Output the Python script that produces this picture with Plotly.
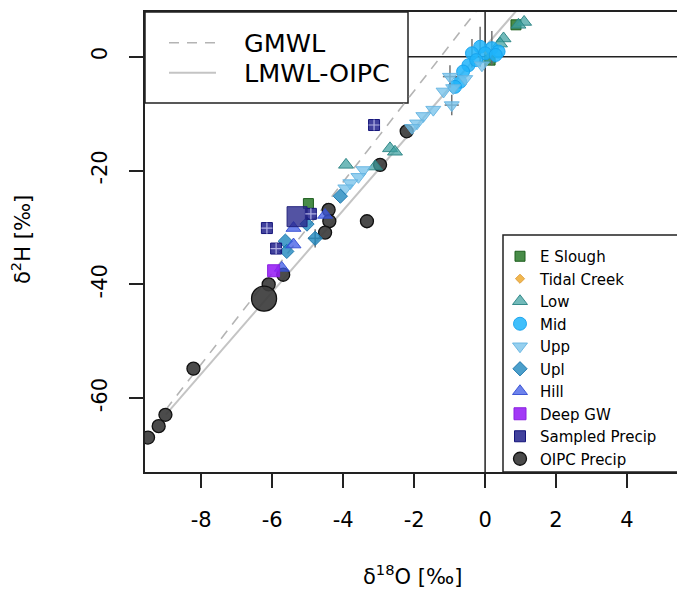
import plotly.graph_objects as go

# ---------------- data ----------------
# meteoric water lines: slope, intercept, x extent
gmwl_slope, gmwl_int = 8.0, 10.0
lmwl_slope, lmwl_int = 7.18, 1.74
line_x = [-9.0, 1.6]

oipc_x = [-9.50, -9.20, -9.01, -8.22, -6.10, -5.69, -4.41, -4.39, -4.51, -3.33, -2.96, -2.21]
oipc_y = [-66.9, -64.9, -62.9, -54.8, -40.0, -38.3, -26.9, -28.9, -30.9, -28.9, -19.0, -13.1]
oipc_mean_x = [-6.23]
oipc_mean_y = [-42.5]

eslough_x = [-4.98, 0.87, 0.14]
eslough_y = [-25.8, 5.6, -0.6]

tidal_x = [0.08]
tidal_y = [0.8]

low_x = [1.10, 0.94, 0.52, 0.42, -3.92, -2.68, -2.54, -3.10, 0.10]
low_y = [6.1, 5.6, 3.2, 2.3, -19.0, -16.1, -16.7, -19.3, -0.4]

mid_x = [-0.14, 0.19, 0.38, -0.37, 0.00, -0.47, -0.62, -0.70, -0.85, 0.30, -0.25]
mid_y = [1.75, 1.5, 0.9, 0.6, 0.6, -1.5, -2.6, -4.4, -5.3, 0.3, -0.6]
mid_ex = [0, 0, 0, 0, 0, 0, 0, 0, 0, 0, 0]
mid_ey = [3.5, 3.0, 0, 2.5, 0, 0, 0, 0, 0, 0, 0]

upp_x = [-0.09, -0.99, -0.56, -1.17, -0.94, -1.46, -1.74, -1.92, -2.06, -0.90,
         -3.43, -3.57, -3.80, -3.94]
upp_y = [-1.5, -3.5, -3.9, -6.1, -8.5, -9.3, -10.4, -11.7, -12.5, -5.5,
         -19.9, -21.1, -22.2, -23.1]
upp_ex = [0, 0.2, 0, 0, 0.2, 0, 0, 0, 0, 0, 0, 0, 0, 0]
upp_ey = [0, 2.0, 0, 0, 1.8, 0, 0, 0, 0, 0, 0, 0, 0, 0]

upl_x = [-4.08, -4.79, -5.63, -5.59, -5.02]
upl_y = [-24.5, -31.9, -32.4, -34.2, -29.4]
upl_ex = [0, 0.2, 0, 0, 0]
upl_ey = [0, 1.6, 0, 0, 0]

hill_x = [-4.51, -5.40, -5.40, -5.73]
hill_y = [-27.8, -30.1, -33.0, -37.1]

deepgw_x = [-5.96]
deepgw_y = [-37.6]

sampled_x = [-4.91, -6.15, -5.89, -3.13]
sampled_y = [-27.6, -30.1, -33.7, -12.0]
sampled_mean_x = [-5.30]
sampled_mean_y = [-28.1]

x_ticks = [-8, -6, -4, -2, 0, 2, 4]
y_ticks = [0, -20, -40, -60]
line_names = ["GMWL", "LMWL-OIPC"]

# ---------------- figure ----------------
FONT = "DejaVu Sans"
GMWL_STYLE = dict(color="#b4b4b4", width=1.6, dash="10px,8px")
LMWL_STYLE = dict(color="#c4c4c4", width=2.0)

fig = go.Figure()

gmwl_y = [gmwl_slope * v + gmwl_int for v in line_x]
lmwl_y = [lmwl_slope * v + lmwl_int for v in line_x]
fig.add_trace(go.Scatter(x=line_x, y=gmwl_y, mode="lines", name=line_names[0],
                         line=GMWL_STYLE, showlegend=False))
fig.add_trace(go.Scatter(x=line_x, y=lmwl_y, mode="lines", name=line_names[1],
                         line=LMWL_STYLE, showlegend=False))

ERR = dict(color="rgba(100,100,100,0.9)", thickness=1.5, width=0)


def pts(x, y, name, symbol, size, fill, edge, rank, show=True, ex=None, ey=None, lw=1):
    kw = {}
    if ex is not None:
        kw["error_x"] = dict(type="data", array=ex, visible=True, **ERR)
    if ey is not None:
        kw["error_y"] = dict(type="data", array=ey, visible=True, **ERR)
    fig.add_trace(go.Scatter(x=x, y=y, mode="markers", name=name, showlegend=show,
                             marker=dict(symbol=symbol, size=size, color=fill,
                                         line=dict(color=edge, width=lw)),
                             legend="legend2", legendrank=rank, **kw))


pts(oipc_x, oipc_y, "OIPC Precip", "circle", 13, "rgba(60,60,60,0.92)", "#111111", 20, lw=1.3)
pts(oipc_mean_x, oipc_mean_y, "OIPC Precip", "circle", 25, "rgba(60,60,60,0.92)", "#111111", 21,
    show=False, lw=1.3)
pts(eslough_x, eslough_y, "E Slough", "square", 10, "rgba(40,120,40,0.85)", "#1d5e1d", 11)
pts(tidal_x, tidal_y, "Tidal Creek", "diamond", 7, "rgba(240,175,60,0.9)", "#e0a040", 12)
pts(low_x, low_y, "Low", "triangle-up", 13, "rgba(60,160,160,0.72)", "rgba(40,130,130,0.9)", 13)
pts(mid_x, mid_y, "Mid", "circle", 13, "rgba(30,180,250,0.85)", "rgba(20,160,235,0.9)", 14,
    ex=mid_ex, ey=mid_ey)
pts(upp_x, upp_y, "Upp", "triangle-down", 13, "rgba(120,195,235,0.78)", "rgba(100,180,225,0.9)", 15,
    ex=upp_ex, ey=upp_ey)
pts(upl_x, upl_y, "Upl", "diamond", 11, "rgba(30,135,190,0.8)", "rgba(25,115,170,0.9)", 16,
    ex=upl_ex, ey=upl_ey)
pts(hill_x, hill_y, "Hill", "triangle-up", 13, "rgba(60,90,230,0.75)", "rgba(50,75,210,0.9)", 17)
pts(deepgw_x, deepgw_y, "Deep GW", "square", 12, "rgba(150,30,245,0.88)", "#8a20e0", 18)
pts(sampled_x, sampled_y, "Sampled Precip", "square", 11, "rgba(25,25,135,0.82)", "#15157a", 19)
pts(sampled_mean_x, sampled_mean_y, "Sampled Precip", "square", 20, "rgba(40,40,140,0.8)",
    "rgba(30,30,120,0.9)", 22, show=False)
# light cross marks inside the sampled-precip squares
fig.add_trace(go.Scatter(x=sampled_x, y=sampled_y, mode="markers", showlegend=False,
                         hoverinfo="skip",
                         marker=dict(symbol="cross-thin", size=8,
                                     line=dict(color="rgba(190,190,235,0.9)", width=1.2))))

# ---------------- layout ----------------
L, R, T, B = 145, 677, 12, 472
W, H = 677, 590


def px(xp):
    return (xp - L) / (R - L)


def py(yp):
    return (B - yp) / (B - T)


AX = "#222222"
shapes = [
    dict(type="line", xref="x", yref="paper", x0=0, x1=0, y0=0, y1=1,
         line=dict(color=AX, width=1.5), layer="below"),
    dict(type="line", xref="paper", yref="y", x0=0, x1=1, y0=0, y1=0,
         line=dict(color=AX, width=1.5), layer="below"),
    dict(type="rect", xref="paper", yref="paper", x0=px(145), x1=px(408), y0=py(103), y1=1,
         fillcolor="white", line=dict(color=AX, width=1.5), layer="below"),
    dict(type="rect", xref="paper", yref="paper", x0=px(503), x1=px(690), y0=0, y1=py(235),
         fillcolor="white", line=dict(color=AX, width=1.5), layer="below"),
    # line-key samples inside the top-left key box
    dict(type="line", xref="paper", yref="paper", x0=px(169), x1=px(216), y0=py(42.7),
         y1=py(42.7), line=GMWL_STYLE, layer="above"),
    dict(type="line", xref="paper", yref="paper", x0=px(169), x1=px(216), y0=py(72.7),
         y1=py(72.7), line=LMWL_STYLE, layer="above"),
]

annotations = [
    dict(text=line_names[0], xref="paper", yref="paper", x=px(242), y=py(42.7),
         xanchor="left", yanchor="middle", showarrow=False, font=dict(size=25.5, family=FONT)),
    dict(text=line_names[1], xref="paper", yref="paper", x=px(242), y=py(72.7),
         xanchor="left", yanchor="middle", showarrow=False, font=dict(size=25.5, family=FONT)),
    dict(text="δ<sup>18</sup>O [‰]", xref="paper", yref="paper",
         x=px(412), y=py(575), xanchor="center", yanchor="middle",
         showarrow=False, font=dict(size=21, family=FONT)),
    dict(text="δ<sup>2</sup>H [‰]", xref="paper", yref="paper",
         x=px(21), y=py(240), xanchor="center", yanchor="middle", textangle=-90,
         showarrow=False, font=dict(size=21, family=FONT)),
]

fig.update_layout(
    width=W, height=H, autosize=False,
    margin=dict(l=L, r=W - R, t=T, b=H - B, pad=0),
    paper_bgcolor="white", plot_bgcolor="white",
    font=dict(family=FONT, color="black", size=21),
    shapes=shapes,
    annotations=annotations,
    showlegend=True,
    xaxis=dict(range=[(L - 485.1) / 35.48, (R - 485.1) / 35.48], tickvals=x_ticks,
               ticktext=[str(v) for v in x_ticks],
               ticks="outside", ticklen=14, tickwidth=1.5, tickcolor=AX,
               showline=True, linecolor=AX, linewidth=1.5, mirror=True,
               showgrid=False, zeroline=False, ticklabelstandoff=14,
               tickfont=dict(size=21, family=FONT)),
    yaxis=dict(range=[(56.7 - B) / 5.693, (56.7 - T) / 5.693], tickvals=y_ticks,
               ticktext=[str(v) for v in y_ticks], tickangle=-90,
               ticks="outside", ticklen=14, tickwidth=1.5, tickcolor=AX,
               showline=True, linecolor=AX, linewidth=1.5, mirror=False,
               showgrid=False, zeroline=False, ticklabelstandoff=14,
               tickfont=dict(size=21, family=FONT)),
    legend2=dict(x=px(500), y=py(240), xanchor="left", yanchor="top",
                 bgcolor="rgba(0,0,0,0)", borderwidth=0, itemsizing="trace",
                 font=dict(size=15, family=FONT)),
)

fig.write_html("out.html")
